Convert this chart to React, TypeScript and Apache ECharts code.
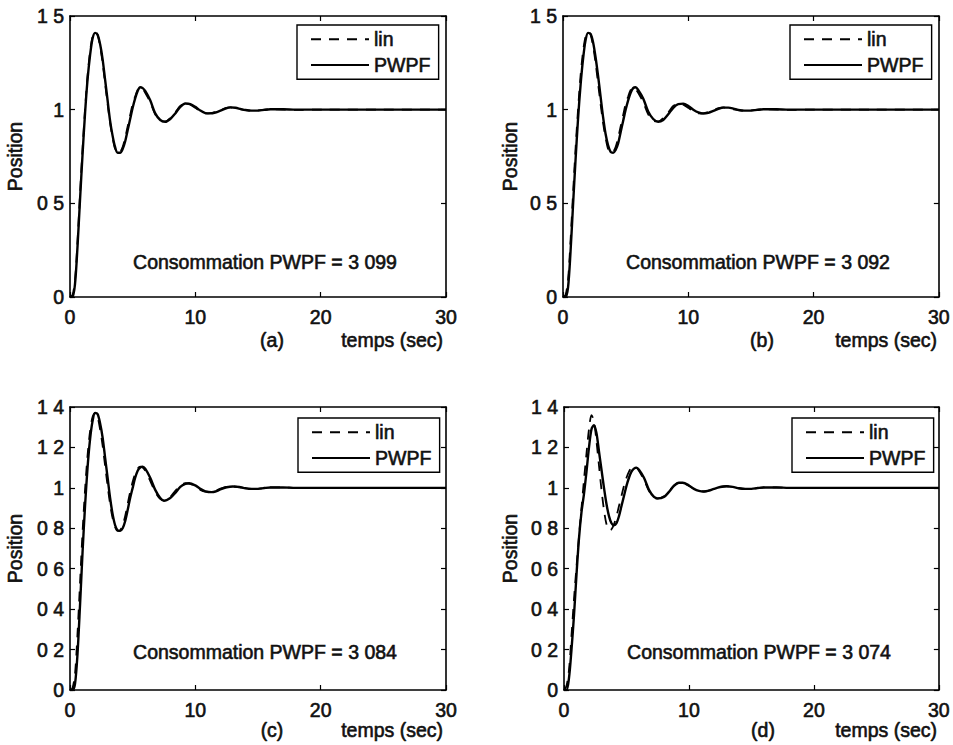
import React, { useEffect, useRef } from 'react';
import * as echarts from 'echarts';

// ---------- data ----------
const seriesNames = ['lin', 'PWPF'];
const panelLetters = ['(a)', '(b)', '(c)', '(d)'];
const consumption = ['3 099', '3 092', '3 084', '3 074'];
const yMaxima = [1.5, 1.5, 1.4, 1.4];
const yIntervals = [0.5, 0.5, 0.2, 0.2];
const xMax = 30;
const xInterval = 10;
const xAxisTitle = 'temps (sec)';
const yAxisTitle = 'Position';

const tail: number[][] = [[14.0, 0.998], [14.5, 0.995], [15.0, 0.995], [15.5, 0.999], [16.0, 1.002], [17.0, 1.002], [18.0, 1.0], [20, 1.0], [25, 1.0], [30, 1.0]];

const linA = [[0, 0], [0.2, 0.01], [0.4, 0.09], [0.6, 0.3], [0.8, 0.55], [1.0, 0.79], [1.2, 1.0], [1.4, 1.18], [1.6, 1.31], [1.8, 1.39], [2.0, 1.415], [2.2, 1.4], [2.4, 1.34], [2.6, 1.25], [2.8, 1.14], [3.0, 1.03], [3.2, 0.93], [3.4, 0.85], [3.6, 0.79], [3.8, 0.77], [4.0, 0.775], [4.2, 0.8], [4.4, 0.85], [4.6, 0.91], [4.8, 0.97], [5.0, 1.03], [5.2, 1.07], [5.4, 1.105], [5.6, 1.12], [5.8, 1.11], [6.0, 1.09], [6.4, 1.04], [6.8, 0.975], [7.2, 0.94], [7.6, 0.937], [8.0, 0.955], [8.4, 0.985], [8.8, 1.02], [9.2, 1.033], [9.6, 1.027], [10.0, 1.01], [10.4, 0.99], [10.8, 0.98], [11.2, 0.981], [11.6, 0.988], [12.0, 0.998], [12.4, 1.008], [12.8, 1.012], [13.2, 1.008], [13.6, 1.002], [14.0, 0.997], [14.5, 0.994], [15.0, 0.996], [15.5, 1.0], [16.0, 1.002], [17.0, 1.001], [18.0, 0.999], [20, 1.0], [25, 1.0], [30, 1.0]];
const pwpfA = [[0, 0], [0.2, 0.0], [0.4, 0.07], [0.6, 0.27], [0.8, 0.52], [1.0, 0.76], [1.2, 0.98], [1.4, 1.16], [1.6, 1.29], [1.8, 1.38], [2.0, 1.41], [2.2, 1.4], [2.4, 1.35], [2.6, 1.27], [2.8, 1.16], [3.0, 1.05], [3.2, 0.94], [3.4, 0.86], [3.6, 0.8], [3.8, 0.77], [4.0, 0.77], [4.2, 0.79], [4.4, 0.83], [4.6, 0.89], [4.8, 0.95], [5.0, 1.01], [5.2, 1.06], [5.4, 1.1], [5.6, 1.12], [5.8, 1.115], [6.0, 1.1], [6.4, 1.05], [6.8, 0.98], [7.2, 0.945], [7.6, 0.935], [8.0, 0.95], [8.4, 0.98], [8.8, 1.015], [9.2, 1.033], [9.6, 1.03], [10.0, 1.015], [10.4, 0.995], [10.8, 0.982], [11.2, 0.98], [11.6, 0.985], [12.0, 0.995], [12.4, 1.006], [12.8, 1.012], [13.2, 1.01], [13.6, 1.004], ...tail];

const linB = linA;
const pwpfB = [[0, 0], [0.2, 0.0], [0.4, 0.05], [0.6, 0.24], [0.8, 0.49], [1.0, 0.73], [1.2, 0.95], [1.4, 1.13], [1.6, 1.27], [1.8, 1.37], [2.0, 1.41], [2.2, 1.405], [2.4, 1.36], [2.6, 1.28], [2.8, 1.18], [3.0, 1.07], [3.2, 0.96], [3.4, 0.87], [3.6, 0.81], [3.8, 0.775], [4.0, 0.77], [4.2, 0.785], [4.4, 0.82], [4.6, 0.88], [4.8, 0.94], [5.0, 1.0], [5.2, 1.05], [5.4, 1.09], [5.6, 1.115], [5.8, 1.12], [6.0, 1.105], [6.4, 1.06], [6.8, 0.99], [7.2, 0.95], [7.6, 0.935], [8.0, 0.945], [8.4, 0.975], [8.8, 1.01], [9.2, 1.03], [9.6, 1.032], [10.0, 1.02], [10.4, 1.0], [10.8, 0.985], [11.2, 0.979], [11.6, 0.983], [12.0, 0.993], [12.4, 1.004], [12.8, 1.011], [13.2, 1.011], [13.6, 1.006], ...tail];

const linC = [[0, 0], [0.2, 0.01], [0.4, 0.08], [0.6, 0.28], [0.8, 0.53], [1.0, 0.78], [1.2, 0.99], [1.4, 1.16], [1.6, 1.28], [1.8, 1.35], [2.0, 1.37], [2.2, 1.35], [2.4, 1.29], [2.6, 1.21], [2.8, 1.11], [3.0, 1.01], [3.2, 0.92], [3.4, 0.85], [3.6, 0.805], [3.8, 0.787], [4.0, 0.79], [4.2, 0.815], [4.4, 0.86], [4.6, 0.92], [4.8, 0.98], [5.0, 1.03], [5.2, 1.07], [5.4, 1.095], [5.6, 1.105], [5.8, 1.1], [6.0, 1.085], [6.4, 1.035], [6.8, 0.98], [7.2, 0.945], [7.5, 0.937], [8.0, 0.955], [8.4, 0.985], [8.8, 1.012], [9.2, 1.023], [9.5, 1.021], [10.0, 1.008], [10.4, 0.99], [10.8, 0.981], [11.3, 0.98], [11.6, 0.985], [12.0, 0.996], [12.5, 1.005], [13.0, 1.007], [13.5, 1.003], ...tail];
const pwpfC = [[0, 0], [0.2, 0.0], [0.4, 0.03], [0.6, 0.18], [0.8, 0.42], [1.0, 0.68], [1.2, 0.91], [1.4, 1.1], [1.6, 1.24], [1.8, 1.33], [2.0, 1.37], [2.2, 1.365], [2.4, 1.32], [2.6, 1.25], [2.8, 1.15], [3.0, 1.05], [3.2, 0.95], [3.4, 0.87], [3.6, 0.815], [3.8, 0.79], [4.0, 0.787], [4.2, 0.8], [4.4, 0.835], [4.6, 0.89], [4.8, 0.95], [5.0, 1.0], [5.2, 1.05], [5.4, 1.085], [5.6, 1.1], [5.8, 1.105], [6.0, 1.095], [6.4, 1.05], [6.8, 0.99], [7.2, 0.95], [7.5, 0.936], [8.0, 0.95], [8.4, 0.975], [8.8, 1.005], [9.2, 1.02], [9.5, 1.023], [10.0, 1.012], [10.4, 0.995], [10.8, 0.983], [11.3, 0.979], [11.6, 0.982], [12.0, 0.992], [12.5, 1.003], [13.0, 1.007], [13.5, 1.005], ...tail];

const linD = [[0, 0], [0.2, 0.02], [0.4, 0.1], [0.6, 0.27], [0.8, 0.45], [1.0, 0.61], [1.2, 0.76], [1.4, 0.9], [1.6, 1.04], [1.8, 1.17], [2.0, 1.29], [2.2, 1.36], [2.4, 1.33], [2.6, 1.23], [2.8, 1.11], [3.0, 0.99], [3.2, 0.89], [3.4, 0.82], [3.6, 0.79], [3.8, 0.795], [4.0, 0.82], [4.2, 0.86], [4.4, 0.91], [4.6, 0.96], [4.8, 1.01], [5.0, 1.05], [5.2, 1.08], [5.4, 1.1], [5.6, 1.105], [5.8, 1.1], [6.0, 1.085], [6.4, 1.04], [6.8, 0.985], [7.2, 0.952], [7.5, 0.947], [8.0, 0.958], [8.4, 0.983], [8.8, 1.012], [9.2, 1.025], [9.5, 1.024], [10.0, 1.01], [10.4, 0.994], [10.8, 0.984], [11.2, 0.982], [11.6, 0.987], [12.0, 0.996], [12.5, 1.005], [13.0, 1.008], [13.5, 1.004], ...tail];
const pwpfD = [[0, 0], [0.2, 0.0], [0.4, 0.06], [0.6, 0.2], [0.8, 0.37], [1.0, 0.57], [1.2, 0.75], [1.4, 0.88], [1.6, 0.97], [1.8, 1.08], [2.0, 1.2], [2.2, 1.29], [2.4, 1.31], [2.6, 1.27], [2.8, 1.18], [3.0, 1.09], [3.2, 1.0], [3.4, 0.92], [3.6, 0.86], [3.8, 0.825], [4.0, 0.815], [4.2, 0.825], [4.4, 0.86], [4.6, 0.91], [4.8, 0.96], [5.0, 1.01], [5.2, 1.05], [5.4, 1.08], [5.6, 1.095], [5.8, 1.1], [6.0, 1.09], [6.4, 1.05], [6.8, 0.99], [7.2, 0.955], [7.5, 0.948], [8.0, 0.955], [8.4, 0.98], [8.8, 1.01], [9.2, 1.025], [9.5, 1.025], [10.0, 1.012], [10.4, 0.995], [10.8, 0.985], [11.2, 0.982], [11.6, 0.986], [12.0, 0.995], [12.5, 1.004], [13.0, 1.008], [13.5, 1.005], ...tail];

const linSeries = [linA, linB, linC, linD];
const pwpfSeries = [pwpfA, pwpfB, pwpfC, pwpfD];

// ---------- layout ----------
const FONT = '"Liberation Sans", Arial, Helvetica, sans-serif';
const INK = '#111';
const FS = 19.5;
const TB = 0.6; // text thickening stroke
const grids = [
  { left: 70, top: 16, width: 376, height: 281 },
  { left: 563, top: 16, width: 377, height: 281 },
  { left: 70, top: 407, width: 376, height: 283 },
  { left: 564, top: 407, width: 377, height: 283 },
];
const legendPos = [
  { left: 297, top: 25 },
  { left: 790, top: 25 },
  { left: 298, top: 418 },
  { left: 792, top: 418 },
];
const nameGaps = [45, 43, 45, 44];
const annotY = [262, 262, 652, 652];
const captionY = [340, 340, 730, 730];
const letterX = [272, 762, 272, 763];
const titleRight = [443, 937, 443, 937];

const fmt = (v: number) => String(Math.round(v * 10) / 10).replace('.', ' ');
const txt = { fontSize: FS, color: INK, fontFamily: FONT, textBorderColor: INK, textBorderWidth: TB };

function buildOption() {
  const xAxis: any[] = [];
  const yAxis: any[] = [];
  const series: any[] = [];
  const legend: any[] = [];
  const graphic: any[] = [];
  const axisLine = { show: true, onZero: false, lineStyle: { color: '#000', width: 1.6 } };
  const axisTick = { show: true, inside: true, length: 5, lineStyle: { color: '#000', width: 1.2 } };
  const gtext = (x: number, y: number, text: string, align: string) => ({
    type: 'text', x, y,
    style: { text, fontSize: FS, fill: INK, fontFamily: FONT, align, verticalAlign: 'middle', stroke: INK, lineWidth: TB },
  });
  grids.forEach((g, k) => {
    xAxis.push({
      gridIndex: k, type: 'value', min: 0, max: xMax, interval: xInterval, position: 'bottom',
      axisLine, axisTick, splitLine: { show: false },
      axisLabel: { show: true, ...txt, margin: 10 },
    });
    xAxis.push({
      gridIndex: k, type: 'value', min: 0, max: xMax, interval: xInterval, position: 'top',
      axisLine, axisTick, splitLine: { show: false }, axisLabel: { show: false },
    });
    yAxis.push({
      gridIndex: k, type: 'value', min: 0, max: yMaxima[k], interval: yIntervals[k], position: 'left',
      axisLine, axisTick, splitLine: { show: false },
      axisLabel: { show: true, ...txt, margin: 6, formatter: fmt },
      name: yAxisTitle, nameLocation: 'middle', nameGap: nameGaps[k],
      nameTextStyle: { ...txt },
    });
    yAxis.push({
      gridIndex: k, type: 'value', min: 0, max: yMaxima[k], interval: yIntervals[k], position: 'right',
      axisLine, axisTick, splitLine: { show: false }, axisLabel: { show: false },
    });
    series.push({
      type: 'line', name: seriesNames[0], xAxisIndex: 2 * k, yAxisIndex: 2 * k,
      data: linSeries[k], showSymbol: false, symbol: 'none', smooth: 0.3, z: 3,
      color: '#000', lineStyle: { color: '#000', width: 1.8, type: [10, 8] },
    });
    series.push({
      type: 'line', name: seriesNames[1], xAxisIndex: 2 * k, yAxisIndex: 2 * k,
      data: pwpfSeries[k], showSymbol: false, symbol: 'none', smooth: 0.3, z: 2,
      color: '#000', lineStyle: { color: '#000', width: 2.4, type: 'solid' },
    });
    legend.push({
      ...legendPos[k], orient: 'vertical', data: seriesNames, selectedMode: false,
      backgroundColor: '#fff', borderColor: '#000', borderWidth: 1.4, borderRadius: 0,
      padding: [4, 8, 4, 13], itemGap: 5, itemWidth: 58, itemHeight: 14,
      itemStyle: { opacity: 0, color: 'rgba(0,0,0,0)', borderWidth: 0 },
      textStyle: { ...txt },
    });
    graphic.push(gtext(g.left + 195, annotY[k], `Consommation PWPF = ${consumption[k]}`, 'center'));
    graphic.push(gtext(letterX[k], captionY[k], panelLetters[k], 'center'));
    graphic.push(gtext(titleRight[k], captionY[k], xAxisTitle, 'right'));
  });
  return {
    animation: false,
    backgroundColor: '#fff',
    grid: grids.map((g) => ({ ...g, containLabel: false })),
    xAxis, yAxis, series, legend, graphic,
  };
}

export default function App() {
  const ref = useRef<HTMLDivElement>(null);
  useEffect(() => {
    if (!ref.current) return;
    const chart = echarts.init(ref.current, undefined, { renderer: 'svg' });
    chart.setOption(buildOption() as any);
    return () => chart.dispose();
  }, []);
  return <div ref={ref} style={{ position: 'fixed', left: 0, top: 0, width: 953, height: 745, background: '#fff' }} />;
}
